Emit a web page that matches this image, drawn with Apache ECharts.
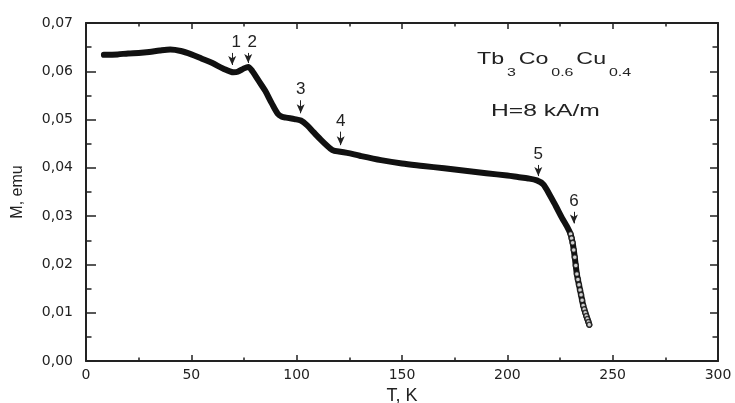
<!DOCTYPE html>
<html>
<head>
<meta charset="utf-8">
<script src="https://cdn.jsdelivr.net/npm/echarts@6/dist/echarts.min.js"></script>
<style>html,body{margin:0;padding:0;background:#fff}#c{width:735px;height:403px}</style>
</head>
<body>
<div id="c"></div>
<script>
// Temperature T (K) along the measured curve
var temps = [8.5, 15, 20, 25, 30, 35, 40, 45, 50, 55, 60, 65, 70, 72, 75, 77, 79, 82, 85, 88, 91, 93, 95, 99, 102, 105, 108, 112, 116, 118, 120, 124, 130, 140, 150, 160, 170, 180, 190, 200, 205, 210, 214, 217, 220, 223, 226, 228, 230, 231, 232, 233, 234, 235, 236, 237, 238, 238.9];
// Magnetization M (emu)
var moments = [0.0634, 0.0635, 0.0637, 0.0638, 0.0640, 0.0643, 0.0645, 0.0642, 0.0635, 0.0626, 0.0617, 0.0606, 0.0598, 0.0599, 0.0606, 0.0609, 0.0600, 0.0580, 0.0560, 0.0535, 0.0512, 0.0506, 0.0504, 0.0501, 0.0498, 0.0488, 0.0474, 0.0456, 0.0440, 0.0435, 0.0434, 0.0431, 0.0425, 0.0416, 0.0409, 0.0404, 0.0399, 0.0394, 0.0389, 0.0384, 0.0381, 0.0378, 0.0374, 0.0366, 0.0345, 0.0321, 0.0296, 0.0281, 0.0263, 0.0245, 0.0215, 0.0180, 0.0158, 0.0137, 0.0115, 0.0100, 0.0087, 0.0075];
// Open-circle points of the steep tail
var tailTemps = [230, 230.5, 231, 231.5, 232, 232.5, 233, 233.5, 234, 234.5, 235, 235.5, 236, 236.5, 237, 237.5, 238, 238.5, 238.9];
var tailMoments = [0.0263, 0.0254, 0.0245, 0.0230, 0.0215, 0.0198, 0.0180, 0.0169, 0.0158, 0.0147, 0.0137, 0.0126, 0.0115, 0.0107, 0.0100, 0.0093, 0.0087, 0.0081, 0.0075];
// Arrow annotations: label, T, M at top, M at tip
var arrowLabels = ['1', '2', '3', '4', '5', '6'];
var arrowTemps = [69.4, 77.0, 101.9, 120.9, 214.7, 231.6];
var arrowTops = [0.0638, 0.0638, 0.0540, 0.0475, 0.0406, 0.0309];
var arrowTips = [0.0613, 0.0617, 0.0513, 0.0447, 0.0383, 0.0285];
// Axis ticks
var xTicks = [0, 50, 100, 150, 200, 250, 300];
var yTicks = [0, 0.01, 0.02, 0.03, 0.04, 0.05, 0.06, 0.07];

var mainData = temps.map(function (t, i) { return [t, moments[i]]; });
var tailData = tailTemps.map(function (t, i) { return [t, tailMoments[i]]; });
var arrowData = arrowLabels.map(function (l, i) {
  var start = { coord: [arrowTemps[i], arrowTops[i]], name: l };
  if (i < 2) start.label = { offset: [4, 0] };
  return [start, { coord: [arrowTemps[i], arrowTips[i]] }];
});

var axisColor = '#222';
var labelFont = 'DejaVu Sans';
function xAx(pos, showLabel) {
  return {
    type: 'value', position: pos, min: xTicks[0], max: xTicks[xTicks.length - 1], interval: 50,
    axisLine: { show: true, onZero: false, lineStyle: { color: axisColor, width: 2 } },
    axisTick: { show: true, inside: true, length: 6, lineStyle: { color: axisColor, width: 1.5 } },
    minorTick: { show: true, splitNumber: 2, length: 3.5, lineStyle: { color: axisColor, width: 1.5 } },
    splitLine: { show: false },
    axisLabel: { show: showLabel, fontFamily: labelFont, fontSize: 14, color: '#222', margin: 7 },
    name: showLabel ? 'T, K' : '', nameLocation: 'middle', nameGap: 26,
    nameTextStyle: { fontFamily: 'Liberation Sans', fontSize: 18, color: '#222' }
  };
}
function yAx(pos, showLabel) {
  return {
    type: 'value', position: pos, min: yTicks[0], max: yTicks[yTicks.length - 1], interval: 0.01,
    axisLine: { show: true, onZero: false, lineStyle: { color: axisColor, width: 2 } },
    axisTick: { show: true, inside: true, length: showLabel ? 10 : 8, lineStyle: { color: axisColor, width: 1.5 } },
    minorTick: { show: true, splitNumber: 2, length: 5.5, lineStyle: { color: axisColor, width: 1.5 } },
    splitLine: { show: false },
    axisLabel: {
      show: showLabel, fontFamily: labelFont, fontSize: 14, color: '#222', margin: 13,
      formatter: function (v) { return v.toFixed(2).replace('.', ','); }
    },
    name: showLabel ? 'M, emu' : '', nameLocation: 'middle', nameGap: 60, nameRotate: 90,
    nameTextStyle: { fontFamily: 'Liberation Sans', fontSize: 16, color: '#222' }
  };
}

var chart = echarts.init(document.getElementById('c'), null, { renderer: 'canvas' });
chart.setOption({
  animation: false,
  backgroundColor: '#fff',
  grid: { left: 86, right: 17, top: 23, bottom: 42, containLabel: false, outerBoundsMode: 'none' },
  xAxis: [xAx('bottom', true), xAx('top', false)],
  yAxis: [yAx('left', true), yAx('right', false)],
  graphic: [
    {
      type: 'text', left: 477, top: 52, scaleX: 1.45,
      style: {
        text: '{n|Tb}{s|3}{n|Co}{s|0.6}{n|Cu}{s|0.4}',
        rich: {
          n: { fontFamily: 'Liberation Sans', fontSize: 16, fill: '#222', verticalAlign: 'top', lineHeight: 26 },
          s: { fontFamily: 'Liberation Sans', fontSize: 11, fill: '#222', verticalAlign: 'bottom', lineHeight: 26, padding: [0, 2, 0, 2] }
        }
      }
    },
    {
      type: 'text', left: 491, top: 103, scaleX: 1.45,
      style: { text: 'H=8 kA/m', fontFamily: 'Liberation Sans', fontSize: 17, fill: '#222' }
    }
  ],
  series: [
    {
      type: 'line', xAxisIndex: 0, yAxisIndex: 0, data: mainData,
      showSymbol: false, symbol: 'none', smooth: 0.3,
      lineStyle: { color: '#111', width: 6, cap: 'round', join: 'round' },
      z: 3,
      markLine: {
        silent: true, symbol: ['none', 'arrow'], symbolSize: [6, 9], precision: 4,
        lineStyle: { color: '#222', width: 1, type: 'solid' },
        label: { show: true, position: 'start', distance: 2, formatter: '{b}', fontFamily: 'Liberation Sans', fontSize: 17, color: '#222' },
        data: arrowData
      }
    },
    {
      type: 'scatter', xAxisIndex: 0, yAxisIndex: 0, data: tailData,
      symbol: 'circle', symbolSize: 5,
      itemStyle: { color: '#fff', borderColor: '#111', borderWidth: 1.5 },
      z: 4
    }
  ]
});
</script>
</body>
</html>
